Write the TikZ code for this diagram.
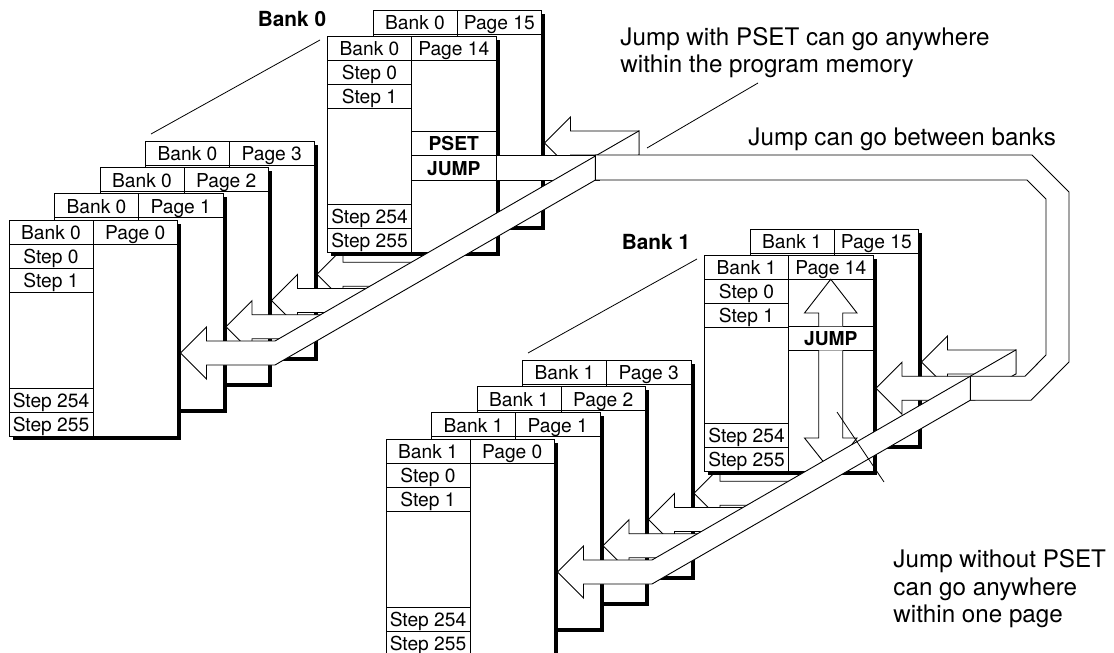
\documentclass[tikz,border=0pt]{standalone}
\usepackage{fontspec}
\setmainfont{TeX Gyre Heros}
\newcommand\cellfont{\fontsize{19.2}{21}\selectfont}
\tikzset{
  cell/.style={font=\cellfont, inner sep=0pt, anchor=base},
  boldcell/.style={font=\cellfont\bfseries, inner sep=0pt, anchor=base},
  lbl/.style={font=\fontsize{24.2}{29}\selectfont, inner sep=0pt, anchor=base west},
  banklbl/.style={font=\fontsize{20.8}{24}\selectfont\bfseries, inner sep=0pt, anchor=base},
  flow/.style={draw=black, fill=white, line join=miter, line width=0.9pt},
  leader/.style={draw=black, line width=0.8pt},
}
\newcommand\MemPage[5]{% name, x, y, bank, page
  \fill[black] ({#2+3.5},{#3+3.5}) rectangle ++(168.5,216);
  \draw[fill=white] (#2,#3) rectangle ++(168.5,216);
  \draw (#2,{#3+24}) -- ++(168.5,0);
  \draw ({#2+84},#3) -- ++(0,216);
  \node[cell] (#1b) at ({#2+42},{#3+19.5}) {Bank #4};
  \node[cell] (#1p) at ({#2+126.25},{#3+19.5}) {Page #5};
}
\newcommand\MemSteps[3]{% name, x, y
  \foreach \r in {48,72,168,192} {\draw (#2,{#3+\r}) -- ++(84,0);}
  \node[cell] (#1s0) at ({#2+42},{#3+43.5}) {Step 0};
  \node[cell] (#1s1) at ({#2+42},{#3+67.5}) {Step 1};
  \node[cell] (#1s254) at ({#2+42},{#3+187.5}) {Step 254};
  \node[cell] (#1s255) at ({#2+42},{#3+211.5}) {Step 255};
}
\newcommand\BArrow[5]{% name, tipx, tipy, top end x, bottom end x
  \draw[flow] (#2,#3) coordinate (#1) -- ({#2+26},{#3-26}) -- ({#2+26},{#3-12}) -- (#4,{#3-12}) -- (#5,{#3+12}) -- ({#2+26},{#3+12}) -- ({#2+26},{#3+26}) -- cycle;
}
\begin{document}
\begin{tikzpicture}[x=1pt,y=-1pt,line width=0.9pt]
\useasboundingbox (0,0) rectangle (1114,653);

% bank label leader lines
\coordinate (b0a) at (151,134); \coordinate (b0b) at (320,40);
\coordinate (b1a) at (528,353); \coordinate (b1b) at (697,259);
\draw[leader] (b0a) -- (b0b);
\draw[leader] (b1a) -- (b1b);
\node[banklbl] (bank0) at (292,26) {Bank 0};
\node[banklbl] (bank1) at (656,249) {Bank 1};

% ================= BANK 0 =================
\MemPage{ap15}{373}{10}{0}{15}
\BArrow{aA3}{317}{274.25}{432.2}{390.6}
\MemPage{ap14}{327.5}{36.25}{0}{14}
\MemSteps{ap14}{327.5}{36.25}
\draw (411.5,131.75) -- (496,131.75);
\draw (411.5,155) -- (496,155);
\draw (411.5,180) -- (496,180);
\node[boldcell] (pset) at (453.75,150.5) {PSET};
\node[boldcell] (jump0) at (453.75,175) {JUMP};
\MemPage{ap3}{145.5}{141.25}{0}{3}
\MemPage{ap2}{100}{167.5}{0}{2}
\MemPage{ap1}{54.5}{193.75}{0}{1}
\MemPage{ap0}{9}{220}{0}{0}
\MemSteps{ap0}{9}{220}
% arrow into page 15
\draw[flow] (544.5,143) coordinate (aA8) -- (570.5,117) -- (570.5,131) -- (639,131) -- (639,155) -- (570.5,155) -- (570.5,169) -- cycle;
\BArrow{aA2}{271.5}{300.5}{386.7}{345.15}
\BArrow{aA1}{226}{326.75}{341.25}{299.7}
% JUMP band leaving page 14
\fill[white] (496.5,155) rectangle (600,180);
\draw (496,155) -- (600,155);
\draw (496,180) -- (600,180);
% trunk with arrow into page 0
\draw[flow] (180.5,353) coordinate (aA0) -- (206.5,327) -- (206.5,341) -- (275,341) -- (639,130.85) -- (639,154.85) -- (275,365) -- (206.5,365) -- (206.5,379) -- cycle;

% ================= BANK 1 =================
\MemPage{bp15}{750}{229}{1}{15}
\BArrow{bA3}{694}{493.25}{809.2}{767.6}
\MemPage{bp14}{704.5}{255.25}{1}{14}
\MemSteps{bp14}{704.5}{255.25}
\draw (788.5,326.25) -- (873,326.25);
\draw (788.5,350.25) -- (873,350.25);
\node[boldcell] (jump1) at (830.75,345.5) {JUMP};
\draw[flow] (818.75,326.25) -- (818.75,313) -- (804.5,313) -- (830.75,279.25) -- (857,313) -- (842.75,313) -- (842.75,326.25);
\draw[flow] (818.75,350.25) -- (818.75,438) -- (804.5,438) -- (830.75,471) -- (857,438) -- (842.75,438) -- (842.75,350.25);
\MemPage{bp3}{522.5}{360.25}{1}{3}
\MemPage{bp2}{477}{386.5}{1}{2}
\MemPage{bp1}{431.5}{412.75}{1}{1}
\MemPage{bp0}{386}{439}{1}{0}
\MemSteps{bp0}{386}{439}
\draw[flow] (921.5,362) coordinate (bA8) -- (947.5,336) -- (947.5,350) -- (1016,350) -- (1016,374) -- (947.5,374) -- (947.5,388) -- cycle;
\draw[flow] (876,388.25) coordinate (bA7) -- (902,362.25) -- (902,376.25) -- (975,376.25) -- (975,400.25) -- (902,400.25) -- (902,414.25) -- cycle;
\BArrow{bA2}{648.5}{519.5}{763.7}{722.15}
\BArrow{bA1}{603}{545.75}{718.25}{676.7}
\draw[flow] (557.5,572) coordinate (bA0) -- (583.5,546) -- (583.5,560) -- (652,560) -- (1016,349.85) -- (1016,373.85) -- (652,584) -- (583.5,584) -- (583.5,598) -- cycle;

% ================= LOOP between banks =================
\draw[flow] (595.4,155) -- (1032,155) -- (1069,192) -- (1069,362) -- (1031,400.25) -- (970.3,400.25) -- (970.3,376.25) -- (1025,376.25) -- (1046,355) -- (1046,199) -- (1027,180) -- (595.4,180) -- cycle;

% ================= labels =================
\node[lbl] (t1) at (620,45) {Jump with PSET can go anywhere};
\node[lbl] (t2) at (620,72) {within the program memory};
\node[lbl] (t3) at (748,145) {Jump can go between banks};
\node[lbl] (t4) at (893,567) {Jump without PSET};
\node[lbl] (t5) at (893,595) {can go anywhere};
\node[lbl] (t6) at (893,622) {within one page};
\coordinate (l1a) at (647,148); \coordinate (l1b) at (758,83);
\draw[leader] (l1a) -- (l1b);
\coordinate (l2a) at (837,412); \coordinate (l2b) at (884,482);
\draw[leader] (l2a) -- (l2b);
\end{tikzpicture}
\end{document}
